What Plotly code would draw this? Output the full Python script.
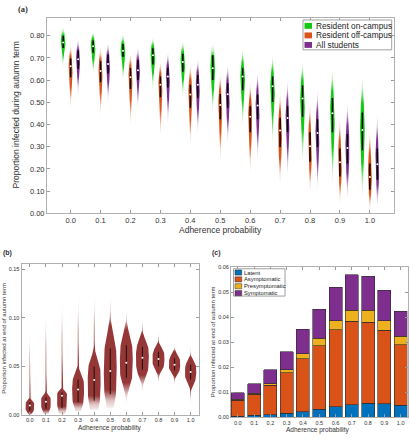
import numpy as np
import plotly.graph_objects as go

# ---------------- data ----------------
adherence = ["0.0", "0.1", "0.2", "0.3", "0.4", "0.5", "0.6", "0.7", "0.8", "0.9", "1.0"]

# Panel (a): proportion infected during autumn term (violin summaries)
on_med = [0.769, 0.753, 0.732, 0.712, 0.682, 0.654, 0.616, 0.572, 0.517, 0.451, 0.376]
on_q1 = [0.745, 0.723, 0.704, 0.670, 0.638, 0.601, 0.554, 0.502, 0.435, 0.365, 0.284]
on_q3 = [0.800, 0.778, 0.763, 0.744, 0.719, 0.712, 0.653, 0.616, 0.576, 0.520, 0.454]
on_lo = [0.645, 0.623, 0.586, 0.550, 0.513, 0.446, 0.387, 0.299, 0.225, 0.130, 0.072]
on_hi = [0.837, 0.822, 0.807, 0.796, 0.778, 0.760, 0.748, 0.719, 0.690, 0.660, 0.630]

off_med = [0.663, 0.641, 0.613, 0.579, 0.535, 0.488, 0.435, 0.373, 0.302, 0.230, 0.164]
off_q1 = [0.613, 0.591, 0.560, 0.523, 0.476, 0.424, 0.365, 0.299, 0.233, 0.166, 0.107]
off_q3 = [0.697, 0.685, 0.653, 0.616, 0.579, 0.538, 0.483, 0.431, 0.365, 0.292, 0.225]
off_lo = [0.469, 0.439, 0.395, 0.343, 0.299, 0.233, 0.181, 0.130, 0.100, 0.049, 0.027]
off_hi = [0.760, 0.748, 0.726, 0.690, 0.679, 0.638, 0.608, 0.561, 0.513, 0.446, 0.395]

all_med = [0.694, 0.673, 0.645, 0.616, 0.579, 0.536, 0.486, 0.429, 0.362, 0.295, 0.221]
all_q1 = [0.650, 0.630, 0.601, 0.567, 0.520, 0.476, 0.424, 0.365, 0.299, 0.225, 0.152]
all_q3 = [0.734, 0.714, 0.690, 0.656, 0.623, 0.586, 0.535, 0.483, 0.424, 0.358, 0.292]
all_lo = [0.523, 0.498, 0.454, 0.400, 0.358, 0.314, 0.240, 0.166, 0.100, 0.071, 0.041]
all_hi = [0.783, 0.766, 0.748, 0.729, 0.700, 0.675, 0.645, 0.608, 0.567, 0.517, 0.461]

# Panel (b): proportion infected at end of autumn term (violin summaries)
b_med = [0.0094, 0.0134, 0.0195, 0.0260, 0.0356, 0.0450, 0.0534, 0.0587, 0.0574, 0.0513, 0.0440]
b_q1 = [0.0044, 0.0060, 0.0067, 0.0128, 0.0144, 0.0211, 0.0380, 0.0463, 0.0497, 0.0456, 0.0362]
b_q3 = [0.0128, 0.0178, 0.0228, 0.0362, 0.0497, 0.0681, 0.0715, 0.0698, 0.0648, 0.0580, 0.0513]
b_lo = [0.0000, 0.0010, 0.0010, 0.0034, 0.0050, 0.0067, 0.0128, 0.0235, 0.0310, 0.0295, 0.0094]
b_hi = [0.0916, 0.1130, 0.1250, 0.1300, 0.1300, 0.1250, 0.1120, 0.1030, 0.0880, 0.0765, 0.0725]
b_width = [0.27, 0.30, 0.31, 0.37, 0.40, 0.40, 0.40, 0.40, 0.37, 0.35, 0.35]

# Panel (c): mean composition at end of autumn term
latent = [0.0004, 0.0007, 0.0010, 0.0016, 0.0021, 0.0031, 0.0042, 0.0050, 0.0055, 0.0054, 0.0047]
asymptomatic = [0.0063, 0.0085, 0.0117, 0.0161, 0.0213, 0.0255, 0.0309, 0.0335, 0.0326, 0.0294, 0.0243]
presymptomatic = [0.0004, 0.0004, 0.0007, 0.0013, 0.0019, 0.0030, 0.0035, 0.0043, 0.0047, 0.0038, 0.0034]
symptomatic = [0.0027, 0.0038, 0.0056, 0.0071, 0.0099, 0.0117, 0.0135, 0.0142, 0.0136, 0.0122, 0.0100]

# ---------------- style ----------------
GREEN, ORANGE, PURPLE = "#14C814", "#D95319", "#7E2F8E"
RED = "#963737"
C_LAT, C_ASY, C_PRE, C_SYM = "#0072BD", "#D95319", "#EDB120", "#7E2F8E"
FONT = "Liberation Sans"
TXT = "#333333"
W, H = 410, 440


def px(x):
    return x / W


def py(y):
    return 1 - y / H


def rgba(hexc, a):
    h = hexc.lstrip("#")
    r, g, b = int(h[0:2], 16), int(h[2:4], 16), int(h[4:6], 16)
    return f"rgba({r},{g},{b},{a})"


def violin_outline(c, med, q1, q3, lo, hi, half, expo=2.0):
    ys = np.linspace(lo, hi, 90)
    su = max(q3 - med, 1e-6) / 0.6745
    sd = max(med - q1, 1e-6) / 0.6745
    z = np.where(ys >= med, (ys - med) / su, (med - ys) / sd)
    p = np.exp(-0.5 * np.abs(z) ** expo)
    ext = np.where(ys >= med, max(hi - med, 1e-6), max(med - lo, 1e-6))
    t = 0.10 * (1 - np.abs(ys - med) / ext)
    w = half * np.maximum(p, t)
    xs = np.concatenate([c - w, (c + w)[::-1]])
    yy = np.concatenate([ys, ys[::-1]])
    return xs, yy


def fade_scale(color, med, lo, hi, up=0.5):
    span = hi - lo
    p1 = min(max((med - 0.45 * (med - lo) - lo) / span, 0.02), 0.9)
    p2 = max(min((med + up * (hi - med) - lo) / span, 0.98), p1 + 0.01)
    return [[0, rgba(color, 0.0)], [p1 * 0.5, rgba(color, 0.3)], [p1, rgba(color, 1)],
            [p2, rgba(color, 1)], [p2 + (1 - p2) * 0.5, rgba(color, 0.3)], [1, rgba(color, 0.0)]]


fig = go.Figure()
xidx = list(range(len(adherence)))


def add_violins(xa, ya, centers, med, q1, q3, lo, hi, halves, color, barw, dot, expo=2.0, up=0.5):
    for i, c in enumerate(centers):
        xs, yy = violin_outline(c, med[i], q1[i], q3[i], lo[i], hi[i], halves[i], expo)
        fig.add_trace(go.Scatter(
            x=xs, y=yy, mode="lines", fill="toself", line=dict(width=0),
            fillcolor=color,
            fillgradient=dict(type="vertical", colorscale=fade_scale(color, med[i], lo[i], hi[i], up),
                              start=lo[i], stop=hi[i]),
            xaxis=xa, yaxis=ya, hoverinfo="skip", showlegend=False))
    bx, by = [], []
    for i, c in enumerate(centers):
        bx += [c, c, None]
        by += [q1[i], q3[i], None]
    fig.add_trace(go.Scatter(x=bx, y=by, mode="lines", line=dict(color="black", width=barw),
                             xaxis=xa, yaxis=ya, hoverinfo="skip", showlegend=False))
    fig.add_trace(go.Scatter(x=centers, y=med, mode="markers",
                             marker=dict(color="white", size=dot, line=dict(width=0)),
                             xaxis=xa, yaxis=ya, hoverinfo="skip", showlegend=False))


# Panel (a)
HA = 0.078
add_violins("x", "y", [i - 0.25 for i in xidx], on_med, on_q1, on_q3, on_lo, on_hi, [HA] * 11, GREEN, 1.5, 2, expo=2.3)
add_violins("x", "y", xidx, off_med, off_q1, off_q3, off_lo, off_hi, [HA * 0.85] * 11, ORANGE, 1.5, 2, expo=2.3)
add_violins("x", "y", [i + 0.25 for i in xidx], all_med, all_q1, all_q3, all_lo, all_hi, [HA * 0.85] * 11, PURPLE, 1.5, 2, expo=2.3)

# Panel (b)
add_violins("x2", "y2", xidx, b_med, b_q1, b_q3, b_lo, b_hi, b_width, RED, 0.8, 2, expo=3.6, up=0.6)

# Panel (c)
for vals, col, name in [(latent, C_LAT, "Latent"), (asymptomatic, C_ASY, "Asymptomatic"),
                        (presymptomatic, C_PRE, "Presymptomatic"), (symptomatic, C_SYM, "Symptomatic")]:
    fig.add_trace(go.Bar(x=xidx, y=vals, width=0.8, name=name,
                         marker=dict(color=col, line=dict(color="#2a2a2a", width=0.6)),
                         xaxis="x3", yaxis="y3", showlegend=False, hoverinfo="skip"))

axis_common = dict(showline=True, linecolor="#b0b0b0", linewidth=1, mirror="ticks",
                   ticks="inside", ticklen=3, tickcolor="#999999", showgrid=False, zeroline=False,
                   ticklabeloverflow="allow", tickfont=dict(family=FONT, color=TXT))

fig.update_layout(
    width=W, height=H, margin=dict(l=0, r=0, t=0, b=0),
    paper_bgcolor="white", plot_bgcolor="white", barmode="stack", showlegend=False,
    xaxis=dict(axis_common, domain=[px(47), px(393.5)], range=[-0.79, 10.79],
               tickvals=xidx, ticktext=adherence, tickfont=dict(family=FONT, color=TXT, size=7.5), anchor="y"),
    yaxis=dict(axis_common, domain=[py(214.3), py(15)], range=[0, 0.881],
               tickvals=[i / 10 for i in range(9)], tickformat=".2f",
               tickfont=dict(family=FONT, color=TXT, size=7.5), anchor="x"),
    xaxis2=dict(axis_common, domain=[px(21.5), px(199)], range=[-0.52, 10.52],
                tickvals=xidx, ticktext=adherence, tickfont=dict(family=FONT, color=TXT, size=5.5), anchor="y2"),
    yaxis2=dict(axis_common, domain=[py(419.3), py(266)], range=[0, 0.155],
                tickvals=[0, 0.05, 0.10, 0.15], tickformat=".2f",
                tickfont=dict(family=FONT, color=TXT, size=5.5), anchor="x2"),
    xaxis3=dict(axis_common, domain=[px(231), px(407.5)], range=[-0.42, 10.42],
                tickvals=xidx, ticktext=adherence, tickfont=dict(family=FONT, color=TXT, size=5.5), anchor="y3"),
    yaxis3=dict(axis_common, domain=[py(421.7), py(269.3)], range=[0, 0.06],
                tickvals=[0, 0.01, 0.02, 0.03, 0.04, 0.05, 0.06], tickformat=".2f",
                tickfont=dict(family=FONT, color=TXT, size=5.5), anchor="x3"),
)

ann = []
shapes = []


def text(x, y, s, size, angle=0, bold=False, family=FONT, xanchor="center", color=TXT):
    ann.append(dict(x=px(x), y=py(y), xref="paper", yref="paper", text=(f"<b>{s}</b>" if bold else s),
                    showarrow=False, textangle=angle, xanchor=xanchor, yanchor="middle",
                    font=dict(family=family, size=size, color=color)))


# panel labels
text(23, 6, "(a)", 8.5, bold=True, family="Liberation Serif")
text(7, 255, "(b)", 7, bold=True)
text(216, 255, "(c)", 7, bold=True)
# axis titles
text(220, 231, "Adherence probability", 8.5)
text(16, 114.6, "Proportion infected during autumn term", 8.5, angle=-90)
text(110, 433, "Adherence probability", 6.5)
text(4, 342, "Proportion infected at end of autumn term", 6, angle=-90)
text(318, 435, "Adherence probability", 6.5)
text(212.5, 345, "Proportion infected at end of autumn term", 6, angle=-90)

# legend (a)
shapes.append(dict(type="rect", xref="paper", yref="paper", x0=px(303), x1=px(391.7), y0=py(47.7), y1=py(17.3),
                   line=dict(color="#a0a0a0", width=1), fillcolor="white", layer="above"))
for k, (col, lab) in enumerate([(GREEN, "Resident on-campus"), (ORANGE, "Resident off-campus"),
                                (PURPLE, "All students")]):
    yc = 23.3 + k * 9.7
    shapes.append(dict(type="rect", xref="paper", yref="paper", x0=px(304.5), x1=px(312), y0=py(yc + 3),
                       y1=py(yc - 3), line=dict(width=0), fillcolor=col, layer="above"))
    text(313.5, yc, lab, 8.3, xanchor="left", color="#222222")

# legend (c)
shapes.append(dict(type="rect", xref="paper", yref="paper", x0=px(233.5), x1=px(285), y0=py(298.5), y1=py(270.7),
                   line=dict(color="#a0a0a0", width=1), fillcolor="white", layer="above"))
for k, (col, lab) in enumerate([(C_LAT, "Latent"), (C_ASY, "Asymptomatic"),
                                (C_PRE, "Presymptomatic"), (C_SYM, "Symptomatic")]):
    yc = 274.5 + k * 7
    shapes.append(dict(type="rect", xref="paper", yref="paper", x0=px(235), x1=px(241.7), y0=py(yc + 2.6),
                       y1=py(yc - 2.6), line=dict(color="#2a2a2a", width=0.5), fillcolor=col, layer="above"))
    text(242.3, yc, lab, 5.8, xanchor="left", color="#222222")

fig.update_layout(annotations=ann, shapes=shapes)
fig.write_html("out.html", config={"displayModeBar": False},
               post_script="document.body.style.margin='0';document.body.style.padding='0';"
                           "document.documentElement.style.overflow='hidden';")
